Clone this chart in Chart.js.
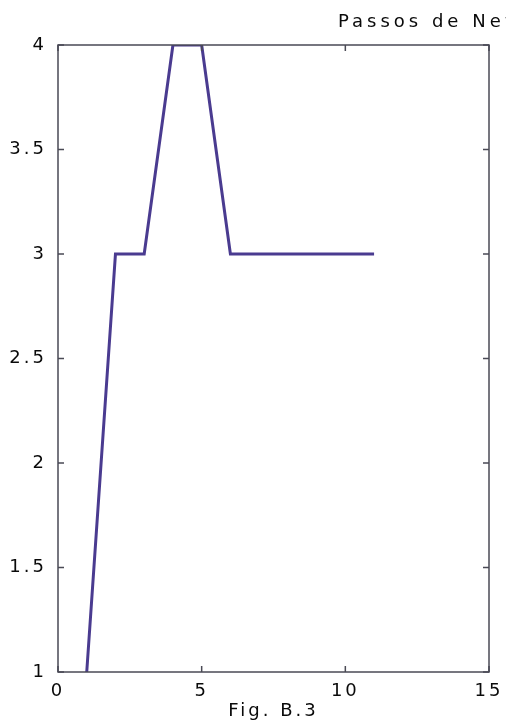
<!DOCTYPE html>
<html>
<head>
<meta charset="utf-8">
<script src="https://cdn.jsdelivr.net/npm/chart.js@4/dist/chart.umd.min.js"></script>
<style>
  html, body { margin: 0; padding: 0; background: #fff; }
  #wrap { width: 506px; height: 727px; position: relative; }
</style>
</head>
<body>
<div id="wrap"><canvas id="chart"></canvas></div>
<script>
// Chart data
const steps = [1, 2, 3, 4, 5, 6, 7, 8, 9, 10, 11];
const newtonSteps = [1, 3, 3, 4, 4, 3, 3, 3, 3, 3, 3];
const xTicks = [0, 5, 10, 15];
const yTickLabels = ['1', '1.5', '2', '2.5', '3', '3.5', '4'];
const titleText = 'Passos de Newton';
const xAxisTitle = 'Fig. B.3';

const axisColor = '#4a4a55';
const textColor = '#0a0a0a';
const fontFamily = '"DejaVu Sans", "Liberation Sans", sans-serif';

// Wider letter spacing, like the old plotter font
const spacingPlugin = {
    id: 'spacing',
    beforeLayout(chart) { chart.ctx.letterSpacing = '3px'; },
    beforeDraw(chart) { chart.ctx.letterSpacing = '3px'; }
};

// Box around plot area with small inward tick marks
const boxPlugin = {
    id: 'box',
    afterDatasetsDraw(chart) {
        const { ctx, chartArea: a, scales } = chart;
        ctx.save();
        ctx.strokeStyle = axisColor;
        ctx.lineWidth = 1.5;
        ctx.strokeRect(a.left, a.top, a.right - a.left, a.bottom - a.top);
        const len = 6;
        ctx.beginPath();
        xTicks.forEach(v => {
            const x = scales.x.getPixelForValue(v);
            ctx.moveTo(x, a.bottom); ctx.lineTo(x, a.bottom - len);
            ctx.moveTo(x, a.top); ctx.lineTo(x, a.top + len);
        });
        yTickLabels.forEach(l => {
            const y = scales.y.getPixelForValue(parseFloat(l));
            ctx.moveTo(a.left, y); ctx.lineTo(a.left + len, y);
            ctx.moveTo(a.right, y); ctx.lineTo(a.right - len, y);
        });
        ctx.stroke();
        ctx.restore();
    }
};

// Title, left-aligned and running off the right edge like the scan
const titlePlugin = {
    id: 'leftTitle',
    afterDraw(chart) {
        const { ctx } = chart;
        ctx.save();
        ctx.fillStyle = textColor;
        ctx.font = '18px ' + fontFamily;
        ctx.letterSpacing = '4px';
        ctx.textBaseline = 'middle';
        ctx.fillText(titleText, 338, 22);
        ctx.restore();
    }
};

new Chart(document.getElementById('chart'), {
    type: 'line',
    data: {
        datasets: [{
            data: steps.map((s, i) => ({ x: s, y: newtonSteps[i] })),
            borderColor: '#4a3b90',
            borderWidth: 3,
            pointRadius: 0,
            tension: 0,
            fill: false
        }]
    },
    options: {
        responsive: true,
        maintainAspectRatio: false,
        animation: false,
        layout: { padding: { top: 45, right: 17, left: 0, bottom: 0 } },
        plugins: {
            legend: { display: false },
            tooltip: { enabled: false }
        },
        scales: {
            x: {
                type: 'linear',
                min: 0,
                max: 15,
                afterBuildTicks: s => { s.ticks = xTicks.map(v => ({ value: v })); },
                afterFit: s => { s.height = 55; s.paddingLeft = 0; s.paddingRight = 0; },
                grid: { display: false },
                border: { display: false },
                ticks: {
                    color: textColor,
                    font: { family: fontFamily, size: 18 },
                    padding: 1,
                    maxRotation: 0,
                    callback: v => String(v)
                },
                title: {
                    display: true,
                    text: xAxisTitle,
                    color: textColor,
                    font: { family: fontFamily, size: 18 },
                    padding: { top: 0, bottom: 5 }
                }
            },
            y: {
                type: 'linear',
                min: 1,
                max: 4,
                afterBuildTicks: s => { s.ticks = yTickLabels.map(l => ({ value: parseFloat(l) })); },
                afterFit: s => { s.width = 58; },
                grid: { display: false },
                border: { display: false },
                ticks: {
                    color: textColor,
                    font: { family: fontFamily, size: 18 },
                    padding: 3,
                    callback: (v, i) => yTickLabels[i]
                }
            }
        }
    },
    plugins: [spacingPlugin, boxPlugin, titlePlugin]
});
</script>
</body>
</html>
